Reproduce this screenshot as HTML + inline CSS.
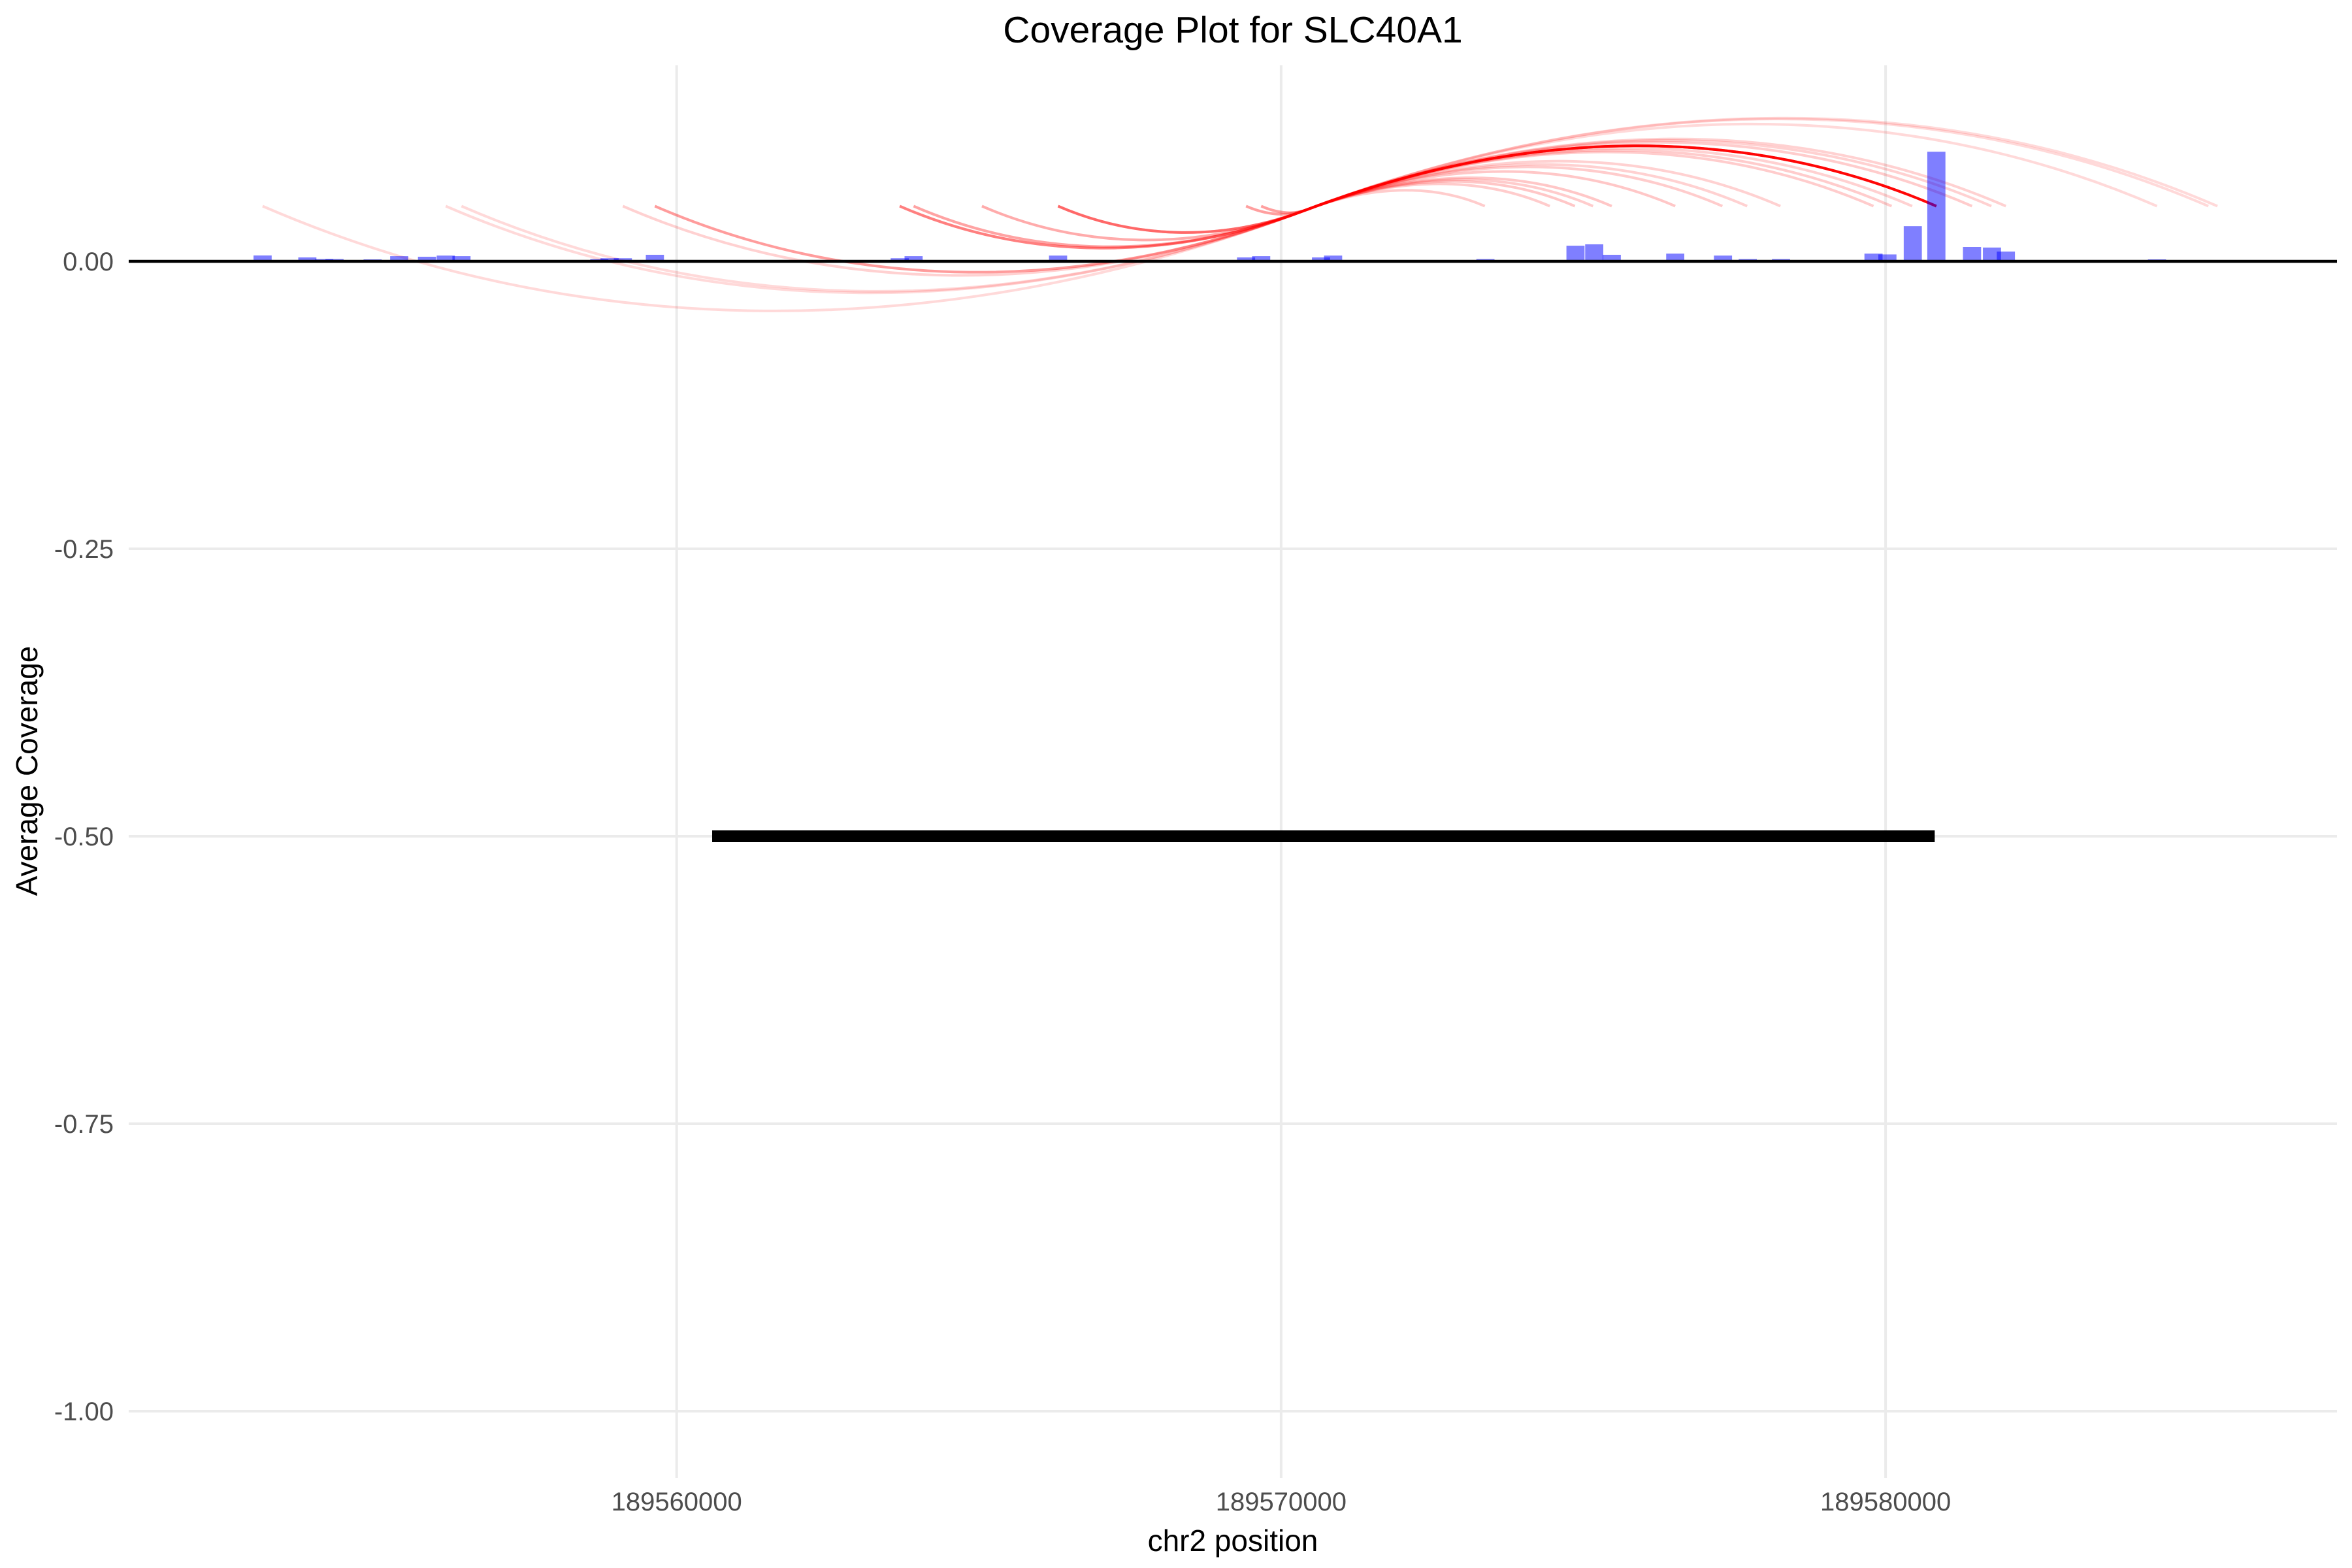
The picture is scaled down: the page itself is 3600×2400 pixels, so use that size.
<!DOCTYPE html>
<html>
<head>
<meta charset="utf-8">
<style>
html,body{margin:0;padding:0;background:#fff;}
svg{display:block;}
text{font-family:"Liberation Sans",Arial,sans-serif;}
</style>
</head>
<body>
<svg id="chart" width="3600" height="2400" viewBox="0 0 3600 2400" xmlns="http://www.w3.org/2000/svg">
  <rect x="0" y="0" width="3600" height="2400" fill="#ffffff"/>
  <g id="grid"></g>
  <g id="arcs"></g>
  <g id="bars"></g>
  <g id="overlay"></g>
  <g id="axes"></g>
  <text x="1887" y="65" font-size="57" text-anchor="middle" fill="#000">Coverage Plot for SLC40A1</text>
  <text x="1887" y="2374" font-size="46" text-anchor="middle" fill="#000">chr2 position</text>
  <text x="0" y="0" font-size="46" text-anchor="middle" fill="#000" transform="translate(57,1180) rotate(-90)">Average Coverage</text>
</svg>
<script>
// ---- data ----
const xTicks = [189560000, 189570000, 189580000];
const xTickLabels = ["189560000", "189570000", "189580000"];
const yTicks = [0, -0.25, -0.5, -0.75, -1.0];
const yTickLabels = ["0.00", "-0.25", "-0.50", "-0.75", "-1.00"];
const barPositions = [189553150,189553890,189554170,189554340,189554970,189555410,189555870,189556180,189556440,189558720,189558890,189559110,189559640,189563690,189563920,189566310,189569420,189569670,189570660,189570860,189573380,189574870,189575180,189575470,189576520,189577310,189577720,189578270,189579800,189580030,189580450,189580840,189581430,189581760,189581990,189584490];
const barValues = [0.0051,0.0034,0.002,0.002,0.0017,0.0045,0.004,0.005,0.0045,0.002,0.0027,0.0027,0.0057,0.0027,0.0045,0.005,0.0034,0.0045,0.0034,0.005,0.002,0.0136,0.0148,0.0057,0.0067,0.005,0.002,0.002,0.0067,0.006,0.0306,0.0953,0.0125,0.012,0.0085,0.0017];
const barWidthBp = 300;
const arcStarts = [189553150,189556180,189556440,189559110,189559640,189563690,189563920,189565050,189566310,189569420,189569670,189566310,189563690,189563920,189565050,189566310,189569420,189569670,189566310,189563690,189559640,189570430];
const arcEnds   = [189585490,189585340,189584490,189581990,189581750,189581430,189580840,189580440,189580840,189573370,189574445,189580100,189579800,189578260,189577710,189577300,189576520,189575470,189575160,189574860,189580840,189580840];
const arcAlpha  = [0.15,0.15,0.15,0.18,0.18,0.2,0.22,0.18,0.2,0.2,0.2,0.2,0.2,0.18,0.18,0.2,0.22,0.22,0.2,0.22,0.25,0.95];
const arcLevel = 0.048;
const hubPos = 189570430;
const hubLevel = 0.045;
const geneStart = 189560587;
const geneEnd = 189580813;
const geneLevel = -0.5;

// ---- scales ----
const X0 = 1035.7, XPX = 0.09252; // px per bp
function xs(v){ return X0 + (v - 189560000) * XPX; }
function ys(v){ return 400 - v * 1760; }
const PL = 197, PR = 3577, PT = 100, PB = 2262;
const NS = "http://www.w3.org/2000/svg";
function mk(tag, attrs, parent){
  const e = document.createElementNS(NS, tag);
  for (const k in attrs) e.setAttribute(k, attrs[k]);
  parent.appendChild(e);
  return e;
}
const grid = document.getElementById('grid');
const axes = document.getElementById('axes');
const barsG = document.getElementById('bars');
const arcsG = document.getElementById('arcs');
const overlay = document.getElementById('overlay');

yTicks.forEach((t, i) => {
  const l = mk('line', {x1: PL, x2: PR, y1: ys(t), y2: ys(t), stroke: '#ebebeb', 'stroke-width': 4}, grid);
  
  
  const tx = mk('text', {x: 174, y: ys(t) + 14, 'font-size': 40, 'text-anchor': 'end', fill: '#4d4d4d'}, axes);
  tx.textContent = yTickLabels[i];
  
  
});
xTicks.forEach((t, i) => {
  const l = mk('line', {x1: xs(t), x2: xs(t), y1: PT, y2: PB, stroke: '#ebebeb', 'stroke-width': 4}, grid);
  
  
  const tx = mk('text', {x: xs(t), y: 2312, 'font-size': 40, 'text-anchor': 'middle', fill: '#4d4d4d'}, axes);
  tx.textContent = xTickLabels[i];
  
  
});

// junction arcs: dip to hub, then rise over to end
const SLOPE = 0.38;
arcStarts.forEach((s, i) => {
  const x1 = xs(s), x2 = xs(arcEnds[i]);
  const xh = xs(hubPos), yh = ys(hubLevel);
  const L1 = Math.max(xh - x1, 0), L2 = x2 - xh;
  const y0 = L1 > 0 ? ys(arcLevel) : yh;
  const d = `M${x1},${y0} C${x1 + 0.3*L1},${y0 + 0.13*L1} ${xh - 0.35*L1},${yh + SLOPE*0.35*L1} ${xh},${yh}` +
            ` C${xh + 0.35*L2},${yh - SLOPE*0.35*L2} ${x2 - 0.3*L2},${ys(arcLevel) - 0.13*L2} ${x2},${ys(arcLevel)}`;
  const p = mk('path', {d: d, fill: 'none', stroke: '#ff0000', 'stroke-opacity': arcAlpha[i], 'stroke-width': 4}, arcsG);
  
  
});

// coverage bars
barPositions.forEach((p, i) => {
  const x = xs(p - barWidthBp/2), w = barWidthBp * XPX, y = ys(barValues[i]);
  const r = mk('rect', {x: x, y: y, width: w, height: ys(0) - y, fill: '#0000ff', 'fill-opacity': 0.5}, barsG);
  
  
});

// zero line
const zl = mk('line', {x1: PL, x2: PR, y1: ys(0), y2: ys(0), stroke: '#000', 'stroke-width': 4.5}, overlay);



// gene segment
const g = mk('line', {x1: xs(geneStart), x2: xs(geneEnd), y1: ys(geneLevel), y2: ys(geneLevel), stroke: '#000', 'stroke-width': 18}, overlay);


</script>
</body>
</html>
